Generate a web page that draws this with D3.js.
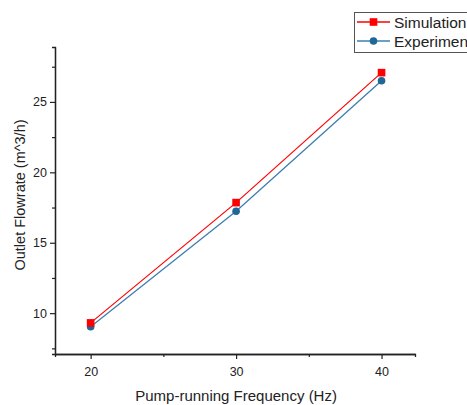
<!DOCTYPE html>
<html>
<head>
<meta charset="utf-8">
<script src="https://cdn.jsdelivr.net/npm/d3@7"></script>
<style>
  body { margin: 0; background: #fff; }
  svg { font-family: "Liberation Sans", Arial, sans-serif; }
</style>
</head>
<body>
<div id="chart"></div>
<script>
const freq = [20, 30, 40];
const simulation = [9.31, 17.85, 27.08];
const experiment = [9.03, 17.24, 26.5];
const xTicks = [20, 30, 40];
const yTicks = [10, 15, 20, 25];

const width = 467, height = 405;
const margin = { top: 47, right: 52, bottom: 51, left: 55 };

const svg = d3.select("#chart").append("svg")
  .attr("width", width)
  .attr("height", height);

const x = d3.scaleLinear()
  .domain([17.55, 42.3])
  .range([margin.left, width - margin.right]);

const y = d3.scaleLinear()
  .domain([7.1, 28.9])
  .range([height - margin.bottom, margin.top]);

const ink = "#222";

// x axis with minor ticks
const gx = svg.append("g")
  .attr("transform", `translate(0,${height - margin.bottom})`);
gx.call(d3.axisBottom(x).tickValues([25, 35]).tickSize(3).tickFormat(""));
gx.call(g => g.append("g").call(d3.axisBottom(x).tickValues(xTicks).tickSize(5).tickSizeOuter(0)));

// y axis with minor ticks
const gy = svg.append("g")
  .attr("transform", `translate(${margin.left},0)`);
gy.call(d3.axisLeft(y).tickValues([7.5, 12.5, 17.5, 22.5, 27.5]).tickSize(3).tickFormat(""));
gy.call(g => g.append("g").call(d3.axisLeft(y).tickValues(yTicks).tickSize(5).tickSizeOuter(0)));

svg.selectAll(".domain").attr("stroke", ink).attr("stroke-width", 1.3);
svg.selectAll(".tick line").attr("stroke", ink).attr("stroke-width", 1.2);
svg.selectAll(".tick text")
  .attr("font-size", 12.5)
  .attr("fill", ink)
  .attr("font-family", "Liberation Sans, Arial, sans-serif");
gx.selectAll(".tick text").attr("dy", "1.1em");

// axis titles
svg.append("text")
  .attr("x", x(30))
  .attr("y", 401)
  .attr("font-size", 15)
  .attr("fill", ink)
  .style("text-anchor", "middle")
  .text("Pump-running Frequency (Hz)");

svg.append("text")
  .attr("transform", "rotate(-90)")
  .attr("x", -195)
  .attr("y", 25)
  .attr("font-size", 14.5)
  .attr("fill", ink)
  .style("text-anchor", "middle")
  .text("Outlet Flowrate (m^3/h)");

const red = "#ff0000", blue = "#1f6796";

const line = d3.line()
  .x((d, i) => x(freq[i]))
  .y(d => y(d));

// experiment
svg.append("path")
  .datum(experiment)
  .attr("fill", "none")
  .attr("stroke", "#3d7fae")
  .attr("stroke-width", 1.3)
  .attr("d", line);
svg.selectAll(".exp")
  .data(experiment)
  .enter()
  .append("circle")
  .attr("cx", (d, i) => x(freq[i]))
  .attr("cy", d => y(d))
  .attr("r", 3.8)
  .attr("fill", blue);

// simulation
svg.append("path")
  .datum(simulation)
  .attr("fill", "none")
  .attr("stroke", red)
  .attr("stroke-width", 1.2)
  .attr("d", line);
svg.selectAll(".sim")
  .data(simulation)
  .enter()
  .append("rect")
  .attr("x", (d, i) => x(freq[i]) - 3.8)
  .attr("y", d => y(d) - 3.8)
  .attr("width", 7.6)
  .attr("height", 7.6)
  .attr("fill", red);

// legend
const legend = svg.append("g");
legend.append("rect")
  .attr("x", 354.5)
  .attr("y", 12.5)
  .attr("width", 130)
  .attr("height", 40)
  .attr("fill", "#fff")
  .attr("stroke", "#555")
  .attr("stroke-width", 1);

const items = [
  { name: "Simulation", color: red, lineColor: red, shape: "square" },
  { name: "Experiment", color: blue, lineColor: "#3d7fae", shape: "circle" }
];
items.forEach((it, i) => {
  const yy = 22 + i * 19;
  legend.append("line")
    .attr("x1", 357).attr("x2", 390)
    .attr("y1", yy).attr("y2", yy)
    .attr("stroke", it.lineColor)
    .attr("stroke-width", 1.3);
  if (it.shape === "square") {
    legend.append("rect")
      .attr("x", 373.5 - 3.8).attr("y", yy - 3.8)
      .attr("width", 7.6).attr("height", 7.6)
      .attr("fill", it.color);
  } else {
    legend.append("circle")
      .attr("cx", 373.5).attr("cy", yy)
      .attr("r", 3.8)
      .attr("fill", it.color);
  }
  legend.append("text")
    .attr("x", 394)
    .attr("y", yy + 5.5)
    .attr("font-size", 15.5)
    .attr("fill", ink)
    .text(it.name);
});
</script>
</body>
</html>
